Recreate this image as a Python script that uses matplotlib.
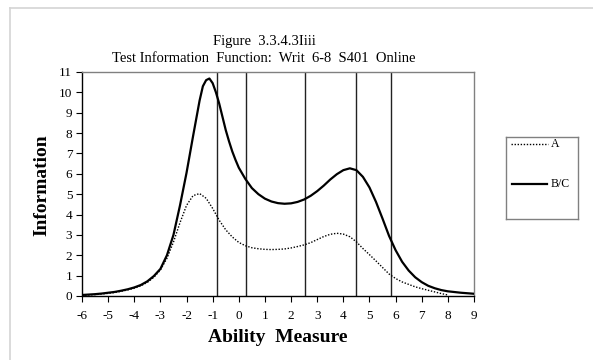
import matplotlib
matplotlib.use("Agg")
import matplotlib.pyplot as plt
from matplotlib.lines import Line2D

# ---- data ----
theta = [-6, -5.75, -5.5, -5.25, -5, -4.75, -4.5, -4.25, -4, -3.75, -3.5, -3.25,
         -3, -2.75, -2.5, -2.25, -2, -1.75, -1.5, -1.375, -1.25, -1.125, -1, -0.875,
         -0.75, -0.625, -0.5, -0.375, -0.25, -0.125, 0, 0.25, 0.5, 0.75, 1, 1.25,
         1.5, 1.75, 2, 2.25, 2.5, 2.75, 3, 3.25, 3.5, 3.75, 4, 4.25, 4.5, 4.75, 5,
         5.25, 5.5, 5.75, 6, 6.25, 6.5, 6.75, 7, 7.25, 7.5, 7.75, 8, 8.5, 9]
info_bc = [0.05, 0.07, 0.09, 0.12, 0.16, 0.2, 0.26, 0.33, 0.42, 0.54, 0.72, 0.98,
           1.33, 2.0, 3.0, 4.45, 6.05, 7.85, 9.6, 10.3, 10.6, 10.68, 10.45, 10.0,
           9.45, 8.8, 8.15, 7.6, 7.1, 6.68, 6.3, 5.75, 5.3, 5.0, 4.78, 4.64,
           4.56, 4.53, 4.55, 4.62, 4.74, 4.92, 5.15, 5.42, 5.72, 5.98, 6.18, 6.27, 6.18, 5.85, 5.33,
           4.62, 3.8, 2.95, 2.25, 1.68, 1.25, 0.92, 0.68, 0.5, 0.38, 0.29, 0.23, 0.16, 0.11]

theta_a = [-6, -5.75, -5.5, -5.25, -5, -4.75, -4.5, -4.25, -4, -3.75, -3.5, -3.25,
           -3, -2.75, -2.5, -2.25, -2, -1.75, -1.5, -1.25, -1, -0.75, -0.5, -0.25,
           0, 0.25, 0.5, 0.75, 1, 1.25, 1.5, 1.75, 2, 2.25, 2.5, 2.75, 3, 3.25, 3.5,
           3.75, 4, 4.25, 4.5, 4.75, 5, 5.25, 5.5, 5.75, 6, 6.25, 6.5, 6.75, 7, 7.25,
           7.5, 7.75, 8]
info_a = [0.03, 0.05, 0.07, 0.1, 0.13, 0.17, 0.23, 0.3, 0.38, 0.5, 0.67, 0.92,
          1.28, 1.85, 2.65, 3.6, 4.45, 4.93, 5.03, 4.8, 4.3, 3.72, 3.25, 2.9,
          2.63, 2.47, 2.37, 2.32, 2.29, 2.28, 2.29, 2.31, 2.36, 2.43, 2.51, 2.62, 2.77, 2.92, 3.03,
          3.08, 3.04, 2.91, 2.66, 2.33, 2.03, 1.72, 1.4, 1.08, 0.86, 0.69, 0.57, 0.45, 0.36, 0.28,
          0.2, 0.12, 0.05]

cut_points = [-0.84, 0.28, 2.54, 4.50, 5.81]
x_ticks = list(range(-6, 10))
y_ticks = list(range(0, 12))
series_labels = ["A", "B/C"]

# ---- figure ----
W, H = 593, 360
plt.rcParams['axes.unicode_minus'] = False
serif = ["Liberation Serif", "DejaVu Serif"]
plt.rcParams['font.family'] = serif
fig = plt.figure(figsize=(W / 100, H / 100), dpi=100)

# outer light border (top and left)
fig.add_artist(Line2D([10 / W, 10 / W], [0, 1 - 8 / H], transform=fig.transFigure,
                      color="#d4d4d4", lw=1.2))
fig.add_artist(Line2D([10 / W, 1], [1 - 8 / H, 1 - 8 / H], transform=fig.transFigure,
                      color="#d4d4d4", lw=1.2))

ax = fig.add_axes([82 / W, 1 - 296 / H, (474 - 82) / W, (296 - 72) / H])
for xc in cut_points:
    ax.axvline(xc, color="#222222", lw=1.0, zorder=1)
line_a, = ax.plot(theta_a, info_a, color="black", lw=1.0, ls=(0, (1, 1.2)), zorder=3)
line_bc, = ax.plot(theta, info_bc, color="black", lw=1.6, zorder=3)

ax.set_xlim(-6, 9)
ax.set_ylim(0, 11)
ax.set_xticks(x_ticks)
ax.set_yticks(y_ticks)
ax.tick_params(axis="both", direction="out", length=4, width=0.8, labelsize=9.5,
               colors="black", pad=3)
ax.tick_params(axis="x", pad=6)
for s in ["top", "right"]:
    ax.spines[s].set_color("#808080")
    ax.spines[s].set_linewidth(1.0)
for s in ["left", "bottom"]:
    ax.spines[s].set_color("black")
    ax.spines[s].set_linewidth(1.0)

fig.text(264 / W, 1 - 41.5 / H, "Figure  3.3.4.3Iiii", ha="center", va="center",
         fontsize=10.5, family=serif)
fig.text(264 / W, 1 - 58.5 / H, "Test Information  Function:  Writ  6-8  S401  Online",
         ha="center", va="center", fontsize=10.5, family=serif)
fig.text(41.5 / W, 1 - 185 / H, "Information", rotation=90, ha="center", va="center",
         fontsize=14, fontweight="bold", family=serif)
fig.text(278 / W, 1 - 337.5 / H, "Ability  Measure", ha="center", va="center",
         fontsize=14, fontweight="bold", family=serif)

# legend box
lax = fig.add_axes([506 / W, 1 - 219 / H, (578 - 506) / W, (219 - 137) / H])
lax.set_xlim(506, 578)
lax.set_ylim(219, 137)
lax.set_xticks([])
lax.set_yticks([])
for s in lax.spines.values():
    s.set_color("#808080")
    s.set_linewidth(1.0)
lax.plot([511, 548], [144.3, 144.3], color="black", lw=1.0, ls=(0, (1, 1.2)))
lax.plot([512, 547], [184.3, 184.3], color="black", lw=1.6)
lax.text(551, 144.3, series_labels[0], ha="left", va="center", fontsize=8.5, family=serif)
lax.text(551, 184.3, series_labels[1], ha="left", va="center", fontsize=8.5, family=serif)

fig.savefig("out.png", dpi=100)
